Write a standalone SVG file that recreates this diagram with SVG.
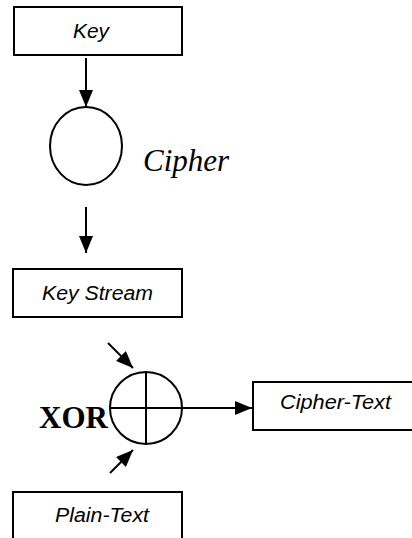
<svg xmlns="http://www.w3.org/2000/svg" width="412" height="538" viewBox="0 0 412 538">
<style>
.box{fill:#fff;stroke:#000;stroke-width:2}
.shape{fill:none;stroke:#000;stroke-width:2}
.edge{fill:none;stroke:#000;stroke-width:2}
.lbl{font-family:"Liberation Sans",Arial,sans-serif;font-style:italic;font-size:20px;fill:#000}
.serif{font-family:"Liberation Serif","Times New Roman",serif;fill:#000}
</style>
<defs>
<marker id="arr" markerUnits="userSpaceOnUse" markerWidth="18" markerHeight="14" refX="17" refY="7" orient="auto">
<path d="M0,0 L17,7 L0,14 Z" fill="#000"/>
</marker>
</defs>
<rect width="412" height="538" fill="#fff"/>
<g id="key">
<rect class="box" x="14" y="7" width="168" height="48"/>
<text class="lbl" x="73" y="38" textLength="36" lengthAdjust="spacingAndGlyphs">Key</text>
</g>
<g id="cipher">
<ellipse class="shape" cx="86" cy="146" rx="36" ry="39"/>
<text class="serif" x="143" y="171" font-size="31" font-style="italic">Cipher</text>
</g>
<g id="keystream">
<rect class="box" x="13" y="269" width="169" height="48"/>
<text class="lbl" x="42" y="300" textLength="111" lengthAdjust="spacingAndGlyphs">Key Stream</text>
</g>
<g id="xor">
<circle class="shape" cx="146" cy="408" r="36"/>
<line class="shape" x1="146" y1="372" x2="146" y2="444"/>
<line class="shape" x1="110" y1="408" x2="182" y2="408"/>
<text class="serif" x="39" y="428" font-size="31" font-weight="bold">XOR</text>
</g>
<g id="ciphertext">
<rect class="box" x="253" y="382" width="200" height="48"/>
<text class="lbl" x="280" y="409" textLength="111" lengthAdjust="spacingAndGlyphs">Cipher-Text</text>
</g>
<g id="plaintext">
<rect class="box" x="13" y="492" width="169" height="60"/>
<text class="lbl" x="55" y="522" textLength="94" lengthAdjust="spacingAndGlyphs">Plain-Text</text>
</g>
<g id="connectors">
<line class="edge" x1="86" y1="58" x2="86" y2="107" marker-end="url(#arr)"/>
<line class="edge" x1="86" y1="207" x2="86" y2="253" marker-end="url(#arr)"/>
<line class="edge" x1="108" y1="343" x2="133" y2="368" marker-end="url(#arr)"/>
<line class="edge" x1="110" y1="473" x2="133" y2="450" marker-end="url(#arr)"/>
<line class="edge" x1="183" y1="408" x2="252" y2="408" marker-end="url(#arr)"/>
</g>
</svg>
